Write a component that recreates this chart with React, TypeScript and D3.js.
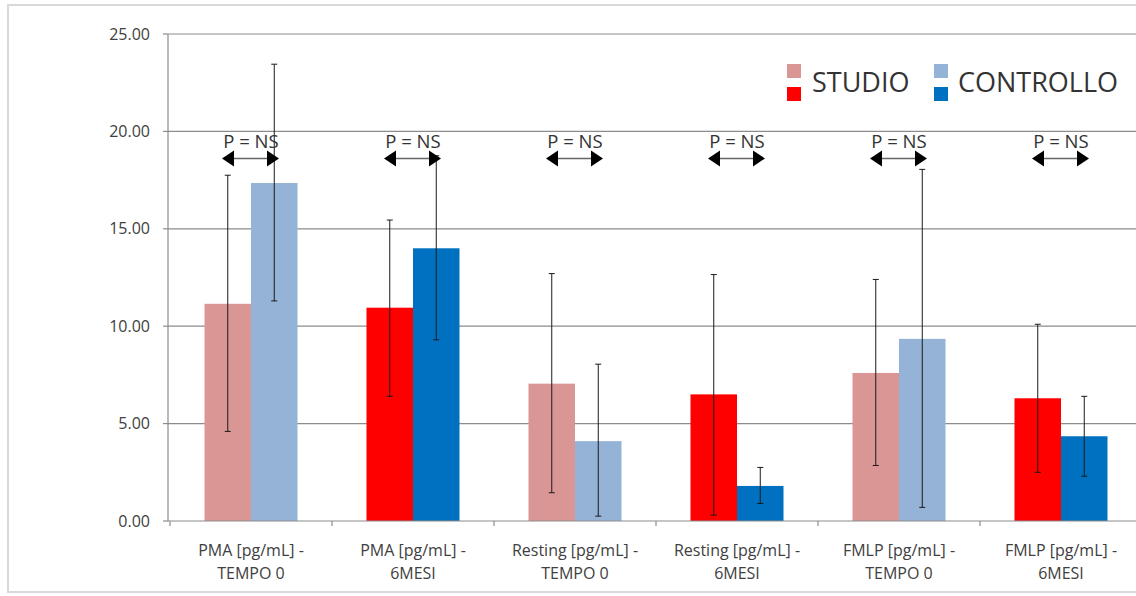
import React, { useEffect, useRef } from 'react';
import * as d3 from 'd3';

const W = 1136;
const H = 596;
const MARGIN = { top: 34, bottom: 75, left: 168 };

const categories = [
  ['PMA [pg/mL] -', 'TEMPO 0'],
  ['PMA [pg/mL] -', '6MESI'],
  ['Resting [pg/mL] -', 'TEMPO 0'],
  ['Resting [pg/mL] -', '6MESI'],
  ['FMLP [pg/mL] -', 'TEMPO 0'],
  ['FMLP [pg/mL] -', '6MESI'],
];
const series = ['STUDIO', 'CONTROLLO'];

const studio = [11.15, 10.95, 7.05, 6.5, 7.6, 6.3];
const studioHigh = [17.75, 15.45, 12.7, 12.65, 12.4, 10.1];
const studioLow = [4.6, 6.4, 1.45, 0.3, 2.85, 2.5];

const controllo = [17.35, 14.0, 4.1, 1.8, 9.35, 4.35];
const controlloHigh = [23.45, 18.75, 8.05, 2.75, 18.05, 6.4];
const controlloLow = [11.3, 9.3, 0.25, 0.9, 0.7, 2.3];

const yTicks = [0, 5, 10, 15, 20, 25];
const pLabels = ['P = NS', 'P = NS', 'P = NS', 'P = NS', 'P = NS', 'P = NS'];

// light = TEMPO 0, dark = 6MESI
const COLORS: Record<string, [string, string]> = {
  STUDIO: ['#d99694', '#ff0000'],
  CONTROLLO: ['#95b3d7', '#0070c0'],
};

const FONT = "'Open Sans', sans-serif";
const TEXT = '#404040';

const App: React.FC = () => {
  const svgRef = useRef<SVGSVGElement | null>(null);

  useEffect(() => {
    if (!svgRef.current) return;
    const svg = d3.select(svgRef.current);
    svg.selectAll('*').remove();

    const x0 = d3.scaleBand<number>()
      .domain(d3.range(categories.length))
      .range([MARGIN.left + 2, MARGIN.left + 2 + 162 * categories.length]);
    const barW = 46.5;
    const x1 = d3.scaleBand<string>().domain(series).range([-barW, barW]);
    const y = d3.scaleLinear().domain([0, 25]).range([H - MARGIN.bottom, MARGIN.top]);
    const y0 = y(0);

    // outer frame
    svg.append('rect')
      .attr('x', 8).attr('y', 5).attr('width', W + 20).attr('height', 587)
      .attr('fill', '#fff').attr('stroke', '#d9d9d9').attr('stroke-width', 2);

    // grid
    svg.append('g').selectAll('line').data(yTicks.slice(1)).join('line')
      .attr('x1', MARGIN.left).attr('x2', W)
      .attr('y1', d => y(d)).attr('y2', d => y(d))
      .attr('stroke', '#8c8c8c').attr('stroke-width', 1.2);

    // y axis
    const yAxis = svg.append('g');
    yAxis.append('line')
      .attr('x1', MARGIN.left).attr('x2', MARGIN.left)
      .attr('y1', y(25)).attr('y2', y0)
      .attr('stroke', '#8c8c8c').attr('stroke-width', 1.2);
    yAxis.selectAll('line.tick').data(yTicks).join('line')
      .attr('class', 'tick')
      .attr('x1', MARGIN.left - 5).attr('x2', MARGIN.left)
      .attr('y1', d => y(d)).attr('y2', d => y(d))
      .attr('stroke', '#8c8c8c').attr('stroke-width', 1.2);
    yAxis.selectAll('text').data(yTicks).join('text')
      .attr('x', 150).attr('y', d => y(d)).attr('dy', '0.35em')
      .attr('text-anchor', 'end')
      .attr('font-family', FONT).attr('font-size', 16).attr('fill', TEXT)
      .text(d => d3.format('.2f')(d));

    // bars + error bars
    const bars = svg.append('g');
    categories.forEach((_, i) => {
      const cx = x0(i)! + x0.bandwidth() / 2;
      const shade = i % 2;
      const rows = [
        { s: 'STUDIO', v: studio[i], hi: studioHigh[i], lo: studioLow[i] },
        { s: 'CONTROLLO', v: controllo[i], hi: controlloHigh[i], lo: controlloLow[i] },
      ];
      rows.forEach(r => {
        bars.append('rect')
          .attr('x', cx + x1(r.s)!)
          .attr('width', x1.bandwidth())
          .attr('y', y(r.v))
          .attr('height', y0 - y(r.v))
          .attr('fill', COLORS[r.s][shade]);
      });
      rows.forEach(r => {
        const ex = cx + x1(r.s)! + x1.bandwidth() / 2;
        const g = bars.append('g').attr('stroke', '#1a1a1a').attr('stroke-width', 1);
        g.append('line').attr('x1', ex).attr('x2', ex).attr('y1', y(r.hi)).attr('y2', y(r.lo));
        g.append('line').attr('x1', ex - 3).attr('x2', ex + 3).attr('y1', y(r.hi)).attr('y2', y(r.hi));
        g.append('line').attr('x1', ex - 3).attr('x2', ex + 3).attr('y1', y(r.lo)).attr('y2', y(r.lo));
      });

      // p annotation
      const ay = y(20) + 27;
      bars.append('text')
        .attr('x', cx).attr('y', y(20) + 17)
        .attr('text-anchor', 'middle')
        .attr('font-family', FONT).attr('font-size', 18.5).attr('fill', '#333')
        .text(pLabels[i]);
      bars.append('line')
        .attr('x1', cx - 20).attr('x2', cx + 20).attr('y1', ay).attr('y2', ay)
        .attr('stroke', '#666').attr('stroke-width', 1.5);
      bars.append('path')
        .attr('d', `M${cx - 29},${ay} L${cx - 17},${ay - 8} L${cx - 17},${ay + 8} Z`)
        .attr('fill', '#000');
      bars.append('path')
        .attr('d', `M${cx + 28},${ay} L${cx + 16},${ay - 8} L${cx + 16},${ay + 8} Z`)
        .attr('fill', '#000');
    });

    // x axis
    const xAxis = svg.append('g');
    xAxis.append('line')
      .attr('x1', MARGIN.left).attr('x2', W).attr('y1', y0).attr('y2', y0)
      .attr('stroke', '#8c8c8c').attr('stroke-width', 1.2);
    xAxis.selectAll('line.tick').data(d3.range(categories.length + 1)).join('line')
      .attr('class', 'tick')
      .attr('x1', d => x0.range()[0] + d * x0.bandwidth())
      .attr('x2', d => x0.range()[0] + d * x0.bandwidth())
      .attr('y1', y0).attr('y2', y0 + 5)
      .attr('stroke', '#8c8c8c').attr('stroke-width', 1.2);
    categories.forEach((lines, i) => {
      const cx = x0(i)! + x0.bandwidth() / 2;
      const t = xAxis.append('text')
        .attr('text-anchor', 'middle')
        .attr('font-family', FONT).attr('font-size', 16).attr('fill', TEXT);
      lines.forEach((ln, j) => {
        t.append('tspan').attr('x', cx).attr('y', y0 + 35 + j * 23).text(ln);
      });
    });

    // legend
    const legend = svg.append('g');
    const legendX = [787, 934];
    const legendText = [812, 958];
    series.forEach((s, i) => {
      legend.append('rect')
        .attr('x', legendX[i]).attr('y', 64).attr('width', 14).attr('height', 14)
        .attr('fill', COLORS[s][0]);
      legend.append('rect')
        .attr('x', legendX[i]).attr('y', 87).attr('width', 14).attr('height', 14)
        .attr('fill', COLORS[s][1]);
      legend.append('text')
        .attr('x', legendText[i]).attr('y', 92)
        .attr('font-family', FONT).attr('font-size', 27).attr('fill', '#333')
        .text(s);
    });
  }, []);

  return (
    <svg
      ref={svgRef}
      width={W}
      height={H}
      style={{ position: 'absolute', left: 0, top: 0, background: '#fff' }}
    />
  );
};

export default App;
